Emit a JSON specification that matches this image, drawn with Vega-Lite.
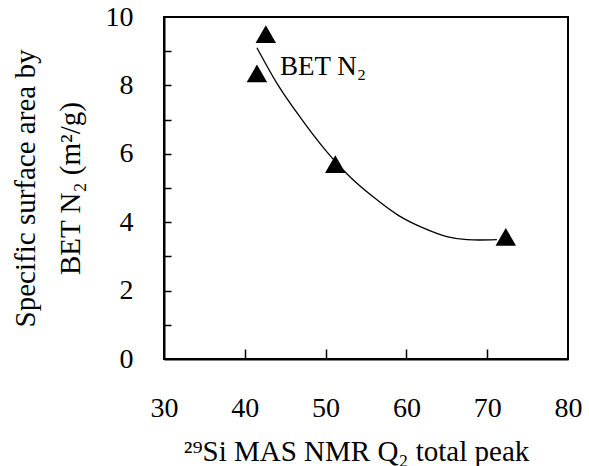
{
  "$schema": "https://vega.github.io/schema/vega-lite/v6.json",
  "width": 404,
  "height": 342,
  "autosize": "none",
  "padding": {"left": 164, "top": 17, "right": 21, "bottom": 107},
  "background": "white",
  "config": {
    "view": {"stroke": "black", "strokeWidth": 2},
    "font": "Liberation Serif"
  },
  "datasets": {
    "points": [
      {"q2": 42.6, "area": 9.5},
      {"q2": 41.5, "area": 8.35},
      {"q2": 51.2, "area": 5.7},
      {"q2": 72.3, "area": 3.57}
    ],
    "curve": [
      {"q2": 41.5, "area": 9.1},
      {"q2": 44, "area": 8.05},
      {"q2": 47, "area": 7.02},
      {"q2": 50, "area": 6.1},
      {"q2": 53, "area": 5.33},
      {"q2": 56, "area": 4.72},
      {"q2": 59, "area": 4.2},
      {"q2": 62, "area": 3.84},
      {"q2": 65, "area": 3.58},
      {"q2": 67.5, "area": 3.49},
      {"q2": 69, "area": 3.48},
      {"q2": 71.2, "area": 3.49}
    ],
    "label": [
      {"q2": 44.36, "area": 8.3, "text": "BET N₂"}
    ]
  },
  "resolve": {"axis": {"x": "independent", "y": "independent"}},
  "layer": [
    {
      "data": {"name": "curve"},
      "mark": {"type": "line", "color": "black", "strokeWidth": 1.3, "interpolate": "monotone"},
      "encoding": {
        "x": {
          "field": "q2", "type": "quantitative",
          "scale": {"domain": [30, 80], "nice": false, "zero": false},
          "axis": {
            "orient": "bottom",
            "values": [30, 40, 50, 60, 70, 80],
            "grid": false,
            "domainColor": "black",
            "domainWidth": 2,
            "tickSize": 0,
            "labelPadding": 35,
            "labelFlush": false,
            "labelColor": "black",
            "labelFont": "Liberation Serif",
            "labelFontSize": 28,
            "title": "²⁹Si MAS NMR Q₂ total peak",
            "titleColor": "black",
            "titleFont": "Liberation Serif",
            "titleFontSize": 29,
            "titleFontWeight": "normal",
            "titleX": 192,
            "titleY": 101,
            "titleBaseline": "alphabetic",
            "titleAnchor": "middle",
            "titleAlign": "center"
          }
        },
        "y": {
          "field": "area", "type": "quantitative",
          "scale": {"domain": [0, 10], "nice": false},
          "axis": {
            "orient": "left",
            "values": [0, 2, 4, 6, 8, 10],
            "grid": false,
            "domainColor": "black",
            "domainWidth": 2,
            "tickSize": 0,
            "labelPadding": 31,
            "labelFlush": false,
            "labelColor": "black",
            "labelFont": "Liberation Serif",
            "labelFontSize": 28,
            "title": ["Specific surface area by", "BET N₂ (m²/g)"],
            "titleColor": "black",
            "titleFont": "Liberation Serif",
            "titleFontSize": 29,
            "titleFontWeight": "normal",
            "titleAngle": -90,
            "titleX": -153,
            "titleY": 171,
            "titleBaseline": "top",
            "titleAlign": "center",
            "titleLineHeight": 45
          }
        }
      }
    },
    {
      "data": {"name": "points"},
      "mark": {"type": "point", "shape": "triangle-up", "filled": true, "color": "black", "opacity": 1, "size": 420},
      "encoding": {
        "x": {
          "field": "q2", "type": "quantitative",
          "axis": {
            "orient": "top",
            "offset": -342,
            "values": [40, 50, 60, 70],
            "grid": false,
            "domain": false,
            "labels": false,
            "title": null,
            "tickColor": "black",
            "tickWidth": 1.5,
            "tickSize": 10
          }
        },
        "y": {
          "field": "area", "type": "quantitative",
          "axis": {
            "orient": "right",
            "offset": -404,
            "values": [1, 2, 3, 4, 5, 6, 7, 8, 9],
            "grid": false,
            "domain": false,
            "labels": false,
            "title": null,
            "tickColor": "black",
            "tickWidth": 1.5,
            "tickSize": 7
          }
        }
      }
    },
    {
      "data": {"name": "label"},
      "mark": {"type": "text", "align": "left", "baseline": "alphabetic", "fontSize": 27, "font": "Liberation Serif", "color": "black"},
      "encoding": {
        "x": {"field": "q2", "type": "quantitative", "axis": null},
        "y": {"field": "area", "type": "quantitative", "axis": null},
        "text": {"field": "text"}
      }
    }
  ]
}
